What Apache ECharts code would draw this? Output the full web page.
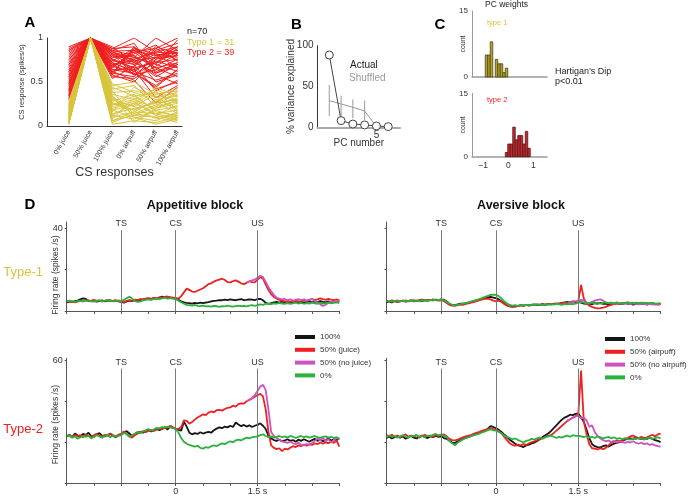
<!DOCTYPE html>
<html>
<head>
<meta charset="utf-8">
<script src="https://cdn.jsdelivr.net/npm/echarts@6/dist/echarts.min.js"></script>
<style>
  html, body { margin: 0; padding: 0; background: #fff; }
  #chart { width: 688px; height: 496px; }
</style>
</head>
<body>
<div id="chart"></div>
<script>
// ---- A: normalised CS responses, one row per neuron ----
const csLabels = ['0% juice', '50% juice', '100% juice', '0% airpuff', '50% airpuff', '100% airpuff']
const type2Rows = [
  [0.88, 1, 0.85, 0.86, 0.80, 0.84], [0.86, 1, 0.82, 0.78, 1.00, 0.86], [0.84, 1, 0.88, 0.90, 0.72, 0.76],
  [0.80, 1, 0.78, 0.84, 0.88, 1.00], [0.78, 1, 0.80, 0.70, 0.82, 0.78], [0.76, 1, 0.74, 0.88, 0.76, 0.90],
  [0.74, 1, 0.86, 0.80, 0.66, 0.72], [0.72, 1, 0.70, 0.76, 0.84, 0.82], [0.70, 1, 0.76, 0.66, 0.72, 0.88],
  [0.68, 1, 0.68, 0.82, 0.92, 0.74], [0.66, 1, 0.82, 0.72, 0.60, 0.68], [0.64, 1, 0.72, 0.62, 0.78, 0.80],
  [0.62, 1, 0.66, 0.86, 0.70, 0.62], [0.60, 1, 0.84, 0.74, 0.56, 0.70], [0.58, 1, 0.62, 0.68, 0.86, 0.94],
  [0.56, 1, 0.70, 0.58, 0.64, 0.76], [0.54, 1, 0.78, 0.80, 0.50, 0.58], [0.52, 1, 0.64, 0.64, 0.74, 0.66],
  [0.50, 1, 0.60, 0.56, 0.80, 0.86], [0.48, 1, 0.74, 0.70, 0.40, 0.52], [0.46, 1, 0.58, 0.90, 0.62, 0.70],
  [0.44, 1, 0.68, 0.60, 0.46, 0.64], [0.42, 1, 0.56, 0.54, 0.68, 0.82], [0.40, 1, 0.80, 0.76, 0.58, 0.48],
  [0.38, 1, 0.62, 0.52, 0.26, 0.44], [0.36, 1, 0.54, 0.68, 0.88, 0.74], [0.34, 1, 0.72, 0.62, 0.52, 0.60],
  [0.32, 1, 0.58, 0.50, 0.76, 0.80], [0.30, 1, 0.66, 0.84, 0.66, 0.56], [0.82, 1, 0.76, 0.64, 0.32, 0.46],
  [0.90, 1, 0.88, 1.00, 0.84, 0.90], [0.86, 1, 0.64, 0.60, 0.44, 0.64], [0.76, 1, 0.84, 0.78, 0.70, 0.98],
  [0.70, 1, 0.90, 0.72, 0.90, 0.82], [0.62, 1, 0.60, 0.88, 0.82, 0.66], [0.56, 1, 0.86, 0.94, 0.60, 0.72],
  [0.48, 1, 0.70, 0.74, 0.78, 0.90], [0.40, 1, 0.76, 0.66, 0.42, 0.50], [0.34, 1, 0.82, 0.58, 0.72, 0.84]
]
const type1Rows = [
  [0.28, 1, 0.48, 0.38, 0.30, 0.34], [0.26, 1, 0.42, 0.46, 0.22, 0.40], [0.25, 1, 0.36, 0.30, 0.42, 0.28],
  [0.24, 1, 0.30, 0.22, 0.36, 0.40], [0.22, 1, 0.44, 0.34, 0.18, 0.22], [0.21, 1, 0.26, 0.18, 0.28, 0.36],
  [0.20, 1, 0.38, 0.40, 0.34, 0.16], [0.18, 1, 0.22, 0.28, 0.12, 0.24], [0.17, 1, 0.34, 0.14, 0.24, 0.32],
  [0.16, 1, 0.18, 0.24, 0.40, 0.18], [0.15, 1, 0.28, 0.36, 0.16, 0.12], [0.14, 1, 0.14, 0.20, 0.26, 0.30],
  [0.13, 1, 0.32, 0.12, 0.10, 0.14], [0.12, 1, 0.24, 0.30, 0.20, 0.26], [0.11, 1, 0.10, 0.16, 0.30, 0.20],
  [0.10, 1, 0.20, 0.26, 0.14, 0.08], [0.09, 1, 0.40, 0.10, 0.06, 0.16], [0.08, 1, 0.16, 0.44, 0.32, 0.38],
  [0.07, 1, 0.12, 0.08, 0.18, 0.10], [0.06, 1, 0.30, 0.22, 0.08, 0.12], [0.05, 1, 0.06, 0.12, 0.22, 0.28],
  [0.04, 1, 0.08, 0.32, 0.12, 0.06], [0.03, 1, 0.02, 0.06, 0.04, 0.10], [0.02, 1, 0.26, 0.18, 0.28, 0.14],
  [0.02, 1, 0.04, 0.14, 0.10, 0.04], [0.03, 1, 0.12, 0.26, 0.44, 0.34], [0.05, 1, 0.18, 0.10, 0.02, 0.08],
  [0.08, 1, 0.46, 0.50, 0.36, 0.42], [0.12, 1, 0.06, 0.16, 0.14, 0.18], [0.18, 1, 0.24, 0.34, 0.38, 0.26],
  [0.23, 1, 0.34, 0.04, 0.20, 0.30]
]

// ---- B: variance explained ----
const pcNumber = [1, 2, 3, 4, 5, 6]
const actualVar = [88.6, 8.2, 4.0, 2.9, 1.6, 0.8]
const shuffledVar = [32.7, 28.6, 24.5, 20.0, 0.8, 0]
const shuffledLo = [13.9, 9.8, 11.0, 9.0]
const shuffledHi = [51.8, 38.8, 34.0, 32.7]

// ---- C: PC weight histograms ----
const binWidth = 0.1
const type1BinStart = [-0.92, -0.82, -0.72, -0.52, -0.42, -0.32, -0.22, -0.12]
const type1Count = [5, 5, 8, 4, 3, 3, 1, 2]
const type2BinStart = [-0.12, -0.02, 0.08, 0.18, 0.28, 0.38, 0.48, 0.58, 0.68, 0.78]
const type2Count = [1, 3, 3, 7, 4, 5, 5, 3, 6, 2]

// ---- D: firing rate traces, sampled every 50 ms from -2 s ----
const tStart = -2
const tStep = 0.05
const magStart = 1.3
const timeTicks = [-2, -1.5, -1, -0.5, 0, 0.5, 1, 1.5, 2, 2.5, 3]
const events = [{ name: 'TS', t: -1 }, { name: 'CS', t: 0 }, { name: 'US', t: 1.5 }]

const app1Black = [4.2,4.6,4.3,4.8,5.0,5.6,6.1,5.8,5.0,4.7,4.9,4.5,4.8,5.1,4.7,4.9,5.2,4.8,5.0,4.6,
  4.4,4.0,4.6,5.0,4.8,5.2,5.4,5.1,5.6,5.8,6.0,5.7,6.2,6.0,6.5,7.0,6.6,6.3,6.4,6.2,
  6.0,5.4,4.6,4.2,3.9,3.8,3.6,3.9,3.7,4.0,3.8,4.1,4.3,4.6,4.9,5.0,5.3,5.2,5.5,5.3,5.6,5.4,5.2,5.5,5.7,5.3,5.4,5.6,5.5,5.2,
  5.8,5.9,5.2,3.9,3.5,3.8,4.2,4.4,4.1,4.5,4.3,4.6,4.2,4.4,4.7,4.3,4.5,4.1,4.4,4.6,4.2,4.5,4.3,4.8,4.4,4.2,4.6,4.3,4.5,4.4,4.6]
const app1Red = [4.8,4.4,4.6,4.2,4.5,4.9,4.7,5.2,4.8,5.0,5.4,4.9,5.1,4.6,5.0,5.3,4.7,4.9,5.2,4.8,
  4.6,4.3,4.9,5.3,5.0,5.5,5.2,5.8,5.5,6.0,6.2,5.9,6.3,6.1,6.6,6.4,6.8,7.0,6.7,6.5,
  6.3,6.0,7.2,9.0,10.8,10.2,9.4,9.2,9.8,10.4,11.0,12.0,13.0,13.4,14.2,14.8,15.2,15.6,15.0,14.0,13.8,14.4,14.8,14.2,13.4,13.0,13.6,14.4,14.0,13.8,
  15.2,16.4,15.6,12.8,10.2,8.2,6.8,6.0,5.4,5.0,4.6,4.8,4.4,4.7,5.0,4.6,4.8,5.2,4.9,5.4,5.8,5.3,5.6,6.1,5.7,5.4,5.9,5.5,5.2,5.6,5.0]
const app1Mag = [14.0,14.2,14.8,15.2,16.0,17.0,16.4,14.0,11.5,9.5,7.8,6.4,6.0,5.6,5.8,5.2,5.6,5.0,5.4,5.8,
  5.2,5.6,5.0,5.4,5.8,4.8,4.2,3.2,2.4,3.0,4.0,4.6,4.4,4.8,4.5]
const app1Green = [4.6,5.0,4.7,4.4,4.8,5.0,4.6,4.9,5.2,4.8,4.5,4.9,5.1,4.7,4.9,5.3,5.0,4.6,4.8,5.1,
  4.8,5.4,6.2,6.9,6.0,4.8,4.4,4.7,5.1,5.4,5.6,5.3,5.8,6.0,5.7,6.1,6.4,6.0,6.2,6.0,
  5.8,5.0,4.2,3.5,3.0,2.8,2.6,2.9,2.5,2.3,2.6,2.2,2.4,2.1,2.5,2.3,2.0,2.4,2.2,2.6,2.3,2.1,2.4,2.6,2.3,2.5,2.2,2.6,2.8,2.5,
  2.9,3.2,3.0,3.4,3.6,3.3,3.7,3.5,3.9,3.6,3.4,3.8,3.5,3.7,4.0,3.6,3.9,3.5,3.8,3.6,4.0,3.7,3.5,3.9,3.6,3.8,4.1,3.7,3.9,4.2,3.8]

const av1Black = [4.2,4.6,4.1,4.8,4.4,4.7,5.0,4.5,4.8,5.2,4.6,4.9,5.1,4.7,5.3,5.0,5.4,5.1,5.5,5.2,
  5.6,5.4,4.6,3.4,2.8,2.9,3.2,3.6,3.5,3.8,4.1,4.4,4.8,5.1,5.6,5.9,6.2,6.6,6.8,6.5,
  6.2,5.6,4.6,3.6,2.8,2.2,2.0,2.5,2.4,2.8,2.6,3.0,2.7,2.9,3.2,2.8,3.1,3.3,3.0,3.4,3.2,3.5,3.3,3.6,3.9,4.1,4.4,4.2,4.6,4.3,
  4.4,4.0,3.6,3.4,3.6,3.3,3.8,3.5,3.9,3.4,3.6,3.2,3.7,3.4,3.9,3.5,3.3,3.8,3.4,3.6,3.1,3.5,3.8,3.4,3.6,3.3,3.7,3.5,3.2,3.6,3.4]
const av1Red = [5.0,4.6,5.2,4.8,4.4,4.9,4.6,5.1,4.7,5.0,5.3,4.8,5.2,5.5,5.0,5.4,5.1,5.6,5.3,5.0,
  5.2,4.8,3.8,3.0,2.6,2.5,2.8,3.1,3.0,3.4,3.7,4.0,4.4,4.8,5.2,5.6,5.9,6.0,5.6,5.0,
  4.7,5.0,4.4,3.4,2.6,2.2,2.4,2.0,2.5,2.7,2.5,2.9,2.6,3.0,2.8,3.2,2.9,3.3,3.1,3.5,3.2,3.4,3.7,3.5,3.8,4.0,3.7,4.2,4.4,4.6,
  4.8,12.6,6.0,3.6,2.6,2.0,1.5,1.3,1.4,1.6,2.0,2.6,3.0,3.4,3.6,3.3,3.9,3.6,4.2,3.8,3.5,4.0,3.7,4.1,3.6,3.9,3.4,3.8,3.5,3.2,3.4]
const av1Mag = [4.0,4.2,4.4,4.6,4.8,5.4,5.0,4.2,3.8,4.4,5.0,5.4,5.6,5.0,4.2,3.8,4.0,3.6,4.2,3.8,
  3.5,4.0,3.6,3.3,3.8,3.5,3.2,3.6,3.4,3.0,3.4,3.1,3.3,3.0,3.2]
const av1Green = [4.6,4.9,4.5,4.8,5.1,4.7,5.0,4.6,4.9,5.2,4.8,5.1,4.7,5.0,5.3,4.9,5.2,5.5,5.1,5.4,
  5.6,5.2,4.4,3.6,3.0,2.8,3.0,3.3,3.6,3.9,4.2,4.6,5.0,5.4,5.8,6.3,6.8,7.3,7.8,7.9,
  7.8,7.2,6.0,4.6,3.6,2.9,2.6,2.8,2.5,2.9,2.7,3.0,2.8,3.1,2.9,3.2,3.0,2.8,3.2,3.0,3.3,3.1,3.4,3.2,3.0,3.4,3.2,3.5,3.3,3.6,
  4.0,4.4,4.0,3.6,3.8,4.1,3.7,4.0,3.6,3.9,4.2,3.8,4.0,3.7,4.1,3.8,3.5,3.9,4.2,3.8,4.0,3.6,3.9,3.7,4.0,3.8,3.5,3.9,3.7,3.6,3.8]

const app2Black = [23.0,23.6,22.4,24.2,23.2,22.8,24.0,23.4,24.6,23.0,22.6,23.8,24.4,23.2,22.8,23.6,24.0,23.0,22.4,23.4,
  23.6,24.6,25.4,24.2,23.0,23.8,24.4,25.0,24.6,25.4,25.8,25.2,26.0,26.4,25.8,26.6,27.2,26.2,27.8,27.0,
  26.6,26.0,25.6,30.0,27.6,24.6,23.8,24.4,24.0,24.8,24.2,24.6,25.0,24.6,25.8,26.6,27.2,26.8,27.6,27.2,28.0,27.4,29.6,28.6,27.8,28.4,27.6,28.2,27.4,28.0,
  28.4,29.2,28.0,26.4,23.2,21.8,21.0,20.6,21.2,20.4,20.8,21.4,20.6,21.0,20.2,21.2,20.6,21.4,20.8,20.2,21.0,21.6,20.6,21.2,20.4,21.0,21.8,20.8,21.4,21.0,21.8]
const app2Red = [22.6,23.2,22.2,23.6,22.8,23.4,22.4,23.8,23.0,22.6,23.4,24.0,23.2,22.8,23.6,23.0,24.2,23.4,22.8,23.6,
  24.2,25.2,24.0,22.8,22.2,23.4,24.2,24.8,25.4,24.8,25.6,26.0,25.4,26.2,26.8,26.2,27.4,27.0,28.0,27.2,
  26.6,26.4,27.4,30.6,30.4,29.0,29.8,31.0,32.0,32.8,33.6,33.2,34.4,35.0,34.6,35.6,35.8,35.4,36.2,36.8,37.0,37.8,37.4,38.6,39.0,38.8,40.0,40.6,41.4,42.2,
  43.0,43.6,42.4,36.0,25.0,18.4,17.2,16.6,17.0,15.6,16.8,16.4,17.2,18.0,17.6,18.4,18.0,18.8,18.2,19.0,18.6,19.4,19.0,19.8,19.2,20.0,19.4,20.2,19.6,20.8,17.8]
const app2Mag = [40.0,40.8,41.6,43.0,45.0,47.2,48.0,45.4,36.0,25.0,23.0,22.0,21.0,20.4,20.0,19.6,20.2,19.4,19.0,19.8,
  18.6,18.4,19.2,18.6,19.6,20.6,21.6,20.8,22.0,20.6,21.4,19.8,21.0,22.0,21.4]
const app2Green = [22.8,23.4,22.2,22.8,21.6,22.4,23.0,22.6,23.2,21.8,22.6,23.4,22.8,22.2,23.0,23.6,22.4,23.2,22.6,23.0,
  23.4,24.6,23.8,22.6,23.4,24.2,25.0,24.4,25.2,25.8,26.4,25.6,26.2,27.0,26.6,27.4,27.0,27.6,27.2,26.8,
  26.4,24.6,22.0,20.2,19.2,18.6,18.2,17.8,18.2,17.2,16.8,17.6,17.2,18.0,18.4,18.0,18.8,19.4,19.0,19.8,20.4,20.0,20.8,21.2,20.8,21.6,22.2,21.8,22.4,22.6,
  22.8,23.4,23.8,23.0,22.4,22.8,22.2,22.6,23.0,22.4,22.8,22.2,23.0,22.6,22.0,22.6,23.0,22.4,22.8,22.2,22.6,23.0,22.4,22.0,22.6,22.8,22.2,22.6,22.0,22.4,21.8]

const av2Black = [22.0,22.6,21.8,22.4,23.0,22.2,22.8,21.6,22.4,23.0,22.2,21.8,22.6,23.2,22.4,22.0,22.8,22.4,23.0,22.6,
  22.8,22.0,21.6,20.6,19.8,19.6,20.4,21.0,21.6,22.2,22.6,23.0,23.6,24.0,24.6,25.2,25.6,26.6,27.8,27.4,
  26.8,26.0,25.0,23.6,22.6,21.2,20.2,19.2,18.4,18.0,17.6,18.4,18.8,19.4,19.8,20.6,21.4,22.6,23.4,24.2,25.4,26.8,28.2,29.6,31.0,32.0,32.6,33.4,33.2,33.8,
  34.0,32.0,30.0,26.0,22.0,19.0,18.0,17.6,17.4,18.0,18.4,17.8,18.6,19.2,19.6,20.0,20.6,21.2,21.6,21.8,21.6,22.2,21.8,21.4,22.0,21.6,22.2,21.6,21.0,20.6,20.0]
const av2Red = [23.4,22.8,23.6,22.6,23.2,22.4,23.0,23.8,22.6,23.2,22.8,23.4,22.2,23.0,23.6,22.8,23.2,22.6,23.4,23.0,
  23.4,23.8,22.8,21.6,21.0,20.8,21.2,21.8,22.4,22.8,23.2,23.6,24.2,24.6,25.0,25.6,26.0,26.4,26.8,26.4,
  26.0,25.4,24.2,22.6,21.0,19.4,18.6,18.2,18.8,18.4,19.0,18.6,19.4,20.0,20.4,21.0,21.6,22.0,22.6,23.0,23.4,24.4,25.6,26.8,28.0,29.2,30.4,31.2,32.0,32.6,
  34.0,55.0,30.0,24.0,19.0,17.0,16.8,16.4,17.0,16.6,17.2,18.4,19.6,20.2,20.8,20.4,21.0,21.6,22.0,22.8,23.2,22.4,22.0,22.6,21.8,22.4,23.0,23.6,22.8,23.8,24.2]
const av2Mag = [30.4,31.2,32.0,32.6,33.0,31.6,32.0,30.6,27.4,28.2,25.0,23.0,21.8,21.0,20.4,20.8,20.0,20.6,19.8,20.4,
  20.0,19.6,20.2,19.8,20.4,19.6,19.2,19.8,19.0,19.4,18.6,19.0,18.4,18.0,17.8]
const av2Green = [22.4,23.2,22.6,23.0,22.2,22.8,23.4,22.6,22.2,23.0,22.8,23.4,22.6,23.0,22.4,23.2,22.8,23.6,24.0,23.2,
  23.8,23.0,22.4,20.6,19.4,18.4,19.8,20.6,21.4,22.0,22.4,23.0,23.4,23.8,24.2,24.8,25.2,25.8,26.2,25.8,
  25.6,25.0,24.2,23.2,22.6,22.0,21.4,21.8,21.0,20.4,19.8,20.6,21.0,21.6,21.2,21.8,22.2,21.6,22.4,22.8,23.2,22.6,22.0,22.6,22.2,22.8,23.2,22.6,23.4,23.0,
  23.2,22.8,22.4,23.0,22.2,22.6,22.0,22.8,22.4,21.8,22.2,22.6,21.8,22.4,21.6,22.0,21.4,22.0,21.6,21.2,21.8,21.4,22.0,21.6,21.2,21.8,22.2,21.6,22.0,22.4,21.8]

const appNames = ['100%', '50% (juice)', '50% (no juice)', '0%']
const avNames = ['100%', '50% (airpuff)', '50% (no airpuff)', '0%']

const RED = '#ee1f1f'
const YELLOW = '#d8c43c'
const FONT = 'Liberation Sans'
const TRACE_COLORS = ['#151515', '#ee2020', '#cf52c0', '#2bb23c']

const chart = echarts.init(document.getElementById('chart'))

function toXY(vals, t0) {
  return vals.map((v, i) => [Math.round((t0 + i * tStep) * 100) / 100, v])
}

function lineA(row, color) {
  return {
    type: 'line', xAxisIndex: 0, yAxisIndex: 0, silent: true,
    data: row.map((v, i) => [i + 1, v]),
    symbol: 'none', lineStyle: { color: color, width: 1 }, itemStyle: { color: color }
  }
}

function histSeries(idx, starts, counts, fill, edge) {
  return {
    type: 'custom', xAxisIndex: idx, yAxisIndex: idx, silent: true,
    data: starts.map((s, i) => [s, s + binWidth, counts[i]]),
    encode: { x: [0, 1], y: 2 },
    renderItem: function (params, api) {
      const p0 = api.coord([api.value(0), api.value(2)])
      const p1 = api.coord([api.value(1), 0])
      return {
        type: 'rect',
        shape: { x: p0[0], y: p0[1], width: p1[0] - p0[0], height: p1[1] - p0[1] },
        style: { fill: fill, stroke: edge, lineWidth: 0.8 }
      }
    }
  }
}

function tracePanel(idx, traces, names, lineTop, labelGap) {
  const list = traces.map((tr, k) => ({
    type: 'line', name: names[k], xAxisIndex: idx, yAxisIndex: idx, silent: true,
    data: toXY(tr, k === 2 ? magStart : tStart),
    symbol: 'none', showSymbol: false,
    lineStyle: { color: TRACE_COLORS[k], width: 1.8 },
    itemStyle: { color: TRACE_COLORS[k] }
  }))
  // draw order: black, red, magenta, green
  list[0].markLine = {
    silent: true, symbol: ['none', 'none'], animation: false,
    lineStyle: { color: '#7a7a7a', width: 1, type: 'solid' },
    label: { position: 'end', formatter: '{b}', fontSize: 9, color: '#333', distance: labelGap, fontFamily: FONT },
    data: events.map(e => [{ name: e.name, coord: [e.t, 0] }, { coord: [e.t, lineTop] }])
  }
  return list
}

const series = []
type2Rows.forEach(r => series.push(lineA(r, RED)))
type1Rows.forEach(r => series.push(lineA(r, YELLOW)))

series.push({
  type: 'line', xAxisIndex: 1, yAxisIndex: 1, silent: true,
  data: shuffledVar.map((v, i) => [pcNumber[i], v]),
  symbol: 'none', lineStyle: { color: '#999', width: 1 }
})
series.push({
  type: 'custom', xAxisIndex: 1, yAxisIndex: 1, silent: true,
  data: shuffledLo.map((lo, i) => [pcNumber[i], lo, shuffledHi[i]]),
  encode: { x: 0, y: [1, 2] },
  renderItem: function (params, api) {
    const a = api.coord([api.value(0), api.value(1)])
    const b = api.coord([api.value(0), api.value(2)])
    return { type: 'line', shape: { x1: a[0], y1: a[1], x2: b[0], y2: b[1] }, style: { stroke: '#999', lineWidth: 1 } }
  }
})
series.push({
  type: 'line', xAxisIndex: 1, yAxisIndex: 1, silent: true,
  data: actualVar.map((v, i) => [pcNumber[i], v]),
  symbol: 'circle', symbolSize: 8,
  lineStyle: { color: '#444', width: 1 },
  itemStyle: { color: '#fff', borderColor: '#444', borderWidth: 1 }
})

series.push(histSeries(2, type1BinStart, type1Count, '#b2a52a', '#4a4218'))
series.push(histSeries(3, type2BinStart, type2Count, '#c02a30', '#551414'))

series.push(...tracePanel(4, [app1Black, app1Red, app1Mag, app1Green], appNames, 39, 2))
series.push(...tracePanel(5, [av1Black, av1Red, av1Mag, av1Green], avNames, 39, 2))
series.push(...tracePanel(6, [app2Black, app2Red, app2Mag, app2Green], appNames, 56, 1.5))
series.push(...tracePanel(7, [av2Black, av2Red, av2Mag, av2Green], avNames, 56, 1.5))

const axisTxt = { fontFamily: FONT, color: '#333' }

function timeAxis(idx, showLabels) {
  return {
    type: 'value', gridIndex: idx, min: -2, max: 3,
    axisLine: { onZero: false, lineStyle: { color: '#555', width: 1 } },
    axisTick: { show: true, customValues: timeTicks, length: 3, lineStyle: { color: '#555' } },
    axisLabel: {
      show: showLabels, customValues: [0, 1.5], fontSize: 9, margin: 4, ...axisTxt,
      formatter: v => (v === 0 ? '0' : '1.5 s')
    },
    splitLine: { show: false }
  }
}

// shift: pushes the rotated axis name downwards (right padding in text frame)
function rateAxis(idx, max, ticks, label, named, shift) {
  return {
    type: 'value', gridIndex: idx, min: 0, max: max,
    axisLine: { show: true, onZero: false, lineStyle: { color: '#555', width: 1 } },
    axisTick: { show: true, customValues: ticks, length: 2, lineStyle: { color: '#555' } },
    axisLabel: { show: label !== null, customValues: label === null ? [] : [label], fontSize: 9, margin: 4, ...axisTxt },
    splitLine: { show: false },
    name: named ? 'Firing rate (spikes /s)' : '',
    nameLocation: 'middle', nameGap: 7, nameMoveOverlap: false,
    nameTextStyle: { fontSize: 8.5, padding: [0, shift || 0, 0, 0], ...axisTxt }
  }
}

const option = {
  animation: false,
  textStyle: { fontFamily: FONT },
  grid: [
    { left: 47, top: 38, width: 135, height: 88 },
    { left: 317.5, top: 45.7, width: 82.5, height: 81.6 },
    { left: 472, top: 11, width: 75, height: 66 },
    { left: 472, top: 93.3, width: 75, height: 63.4 },
    { left: 66.7, top: 222, width: 272.6, height: 89 },
    { left: 386.4, top: 222, width: 274.2, height: 89 },
    { left: 66.7, top: 358.3, width: 272.6, height: 125 },
    { left: 386.4, top: 358.3, width: 274.2, height: 125 }
  ],
  xAxis: [
    {
      type: 'value', gridIndex: 0, min: 0, max: 6.2,
      axisLine: { onZero: false, lineStyle: { color: '#333' } }, axisTick: { show: false }, splitLine: { show: false },
      axisLabel: {
        customValues: [1, 2, 3, 4, 5, 6], rotate: 60, fontSize: 7, margin: 5, ...axisTxt,
        formatter: v => csLabels[Math.round(v) - 1]
      },
      name: 'CS responses', nameLocation: 'middle', nameGap: 40, nameMoveOverlap: false,
      nameTextStyle: { fontSize: 12.5, ...axisTxt }
    },
    {
      type: 'value', gridIndex: 1, min: 0, max: 7,
      axisLine: { onZero: false, lineStyle: { color: '#aaa', width: 2 } }, axisTick: { show: false }, splitLine: { show: false },
      axisLabel: { customValues: [5], fontSize: 10, margin: 3, ...axisTxt },
      name: 'PC number', nameLocation: 'middle', nameGap: 11, nameMoveOverlap: false,
      nameTextStyle: { fontSize: 10, ...axisTxt }
    },
    {
      type: 'value', gridIndex: 2, min: -1.45, max: 1.55,
      axisLine: { onZero: false, lineStyle: { color: '#999', width: 1.5 } }, axisTick: { show: false }, splitLine: { show: false },
      axisLabel: { show: false }
    },
    {
      type: 'value', gridIndex: 3, min: -1.45, max: 1.55,
      axisLine: { onZero: false, lineStyle: { color: '#999', width: 1.5 } }, axisTick: { show: false }, splitLine: { show: false },
      axisLabel: { customValues: [-1, 0, 1], fontSize: 8.5, margin: 4, ...axisTxt, formatter: v => (v < 0 ? '\u22121' : String(v)) }
    },
    timeAxis(4, false), timeAxis(5, false), timeAxis(6, true), timeAxis(7, true)
  ],
  yAxis: [
    {
      type: 'value', gridIndex: 0, min: 0, max: 1, interval: 0.5,
      axisLine: { show: true, onZero: false, lineStyle: { color: '#333' } }, axisTick: { show: false }, splitLine: { show: false },
      axisLabel: { fontSize: 9, margin: 4, ...axisTxt },
      name: 'CS response (spikes/s)', nameLocation: 'middle', nameGap: 22, nameMoveOverlap: false,
      nameTextStyle: { fontSize: 7.3, ...axisTxt }
    },
    {
      type: 'value', gridIndex: 1, min: 0, max: 100, interval: 50,
      axisLine: { show: true, onZero: false, lineStyle: { color: '#333' } }, axisTick: { show: false }, splitLine: { show: false },
      axisLabel: { fontSize: 10, margin: 4, ...axisTxt },
      name: '% variance explained', nameLocation: 'middle', nameGap: 21, nameMoveOverlap: false,
      nameTextStyle: { fontSize: 10, ...axisTxt }
    },
    {
      type: 'value', gridIndex: 2, min: 0, max: 15,
      axisLine: { show: true, onZero: false, lineStyle: { color: '#999' } }, axisTick: { show: false }, splitLine: { show: false },
      axisLabel: { customValues: [0, 15], fontSize: 8, margin: 4, ...axisTxt },
      name: 'count', nameLocation: 'middle', nameGap: 5, nameMoveOverlap: false, nameTextStyle: { fontSize: 7, ...axisTxt }
    },
    {
      type: 'value', gridIndex: 3, min: 0, max: 15,
      axisLine: { show: true, onZero: false, lineStyle: { color: '#999' } }, axisTick: { show: false }, splitLine: { show: false },
      axisLabel: { customValues: [0, 15], fontSize: 8, margin: 4, ...axisTxt },
      name: 'count', nameLocation: 'middle', nameGap: 5, nameMoveOverlap: false, nameTextStyle: { fontSize: 7, ...axisTxt }
    },
    rateAxis(4, 43, [0, 20, 40], 40, true, 17),
    rateAxis(5, 43, [0, 20, 40], null, false),
    rateAxis(6, 61, [0, 20, 40, 60], 60, true, 8),
    rateAxis(7, 61, [0, 20, 40, 60], null, false)
  ],
  legend: [
    {
      data: appNames, left: 295, top: 332, orient: 'vertical', icon: 'rect',
      itemWidth: 20, itemHeight: 4, itemGap: 2.8, padding: 0, selectedMode: false,
      textStyle: { fontSize: 8, lineHeight: 10, color: '#333', fontFamily: FONT }
    },
    {
      data: avNames, left: 605, top: 334, orient: 'vertical', icon: 'rect',
      itemWidth: 20, itemHeight: 4, itemGap: 2.8, padding: 0, selectedMode: false,
      textStyle: { fontSize: 8, lineHeight: 10, color: '#333', fontFamily: FONT }
    }
  ],
  graphic: [
    { type: 'text', style: { text: 'A', x: 30, y: 23, font: 'bold 15px ' + FONT, fill: '#000', textAlign: 'center', textVerticalAlign: 'middle' } },
    { type: 'text', style: { text: 'B', x: 296.5, y: 25, font: 'bold 15px ' + FONT, fill: '#000', textAlign: 'center', textVerticalAlign: 'middle' } },
    { type: 'text', style: { text: 'C', x: 440, y: 25, font: 'bold 15px ' + FONT, fill: '#000', textAlign: 'center', textVerticalAlign: 'middle' } },
    { type: 'text', style: { text: 'D', x: 30, y: 205, font: 'bold 15px ' + FONT, fill: '#000', textAlign: 'center', textVerticalAlign: 'middle' } },
    { type: 'text', style: { text: 'n=70', x: 187, y: 32, font: '9px ' + FONT, fill: '#222', textVerticalAlign: 'middle' } },
    { type: 'text', style: { text: 'Type 1 = 31', x: 187, y: 42.5, font: '9px ' + FONT, fill: YELLOW, textVerticalAlign: 'middle' } },
    { type: 'text', style: { text: 'Type 2 = 39', x: 187, y: 53, font: '9px ' + FONT, fill: RED, textVerticalAlign: 'middle' } },
    { type: 'text', style: { text: 'Actual', x: 350, y: 65, font: '10px ' + FONT, fill: '#222', textVerticalAlign: 'middle' } },
    { type: 'text', style: { text: 'Shuffled', x: 349, y: 78, font: '10px ' + FONT, fill: '#999', textVerticalAlign: 'middle' } },
    { type: 'text', style: { text: 'PC weights', x: 485, y: 4.5, font: '8.5px ' + FONT, fill: '#222', textVerticalAlign: 'middle' } },
    { type: 'text', style: { text: 'type 1', x: 487, y: 23, font: '7.5px ' + FONT, fill: YELLOW, textVerticalAlign: 'middle' } },
    { type: 'text', style: { text: 'type 2', x: 487, y: 100, font: '7.5px ' + FONT, fill: RED, textVerticalAlign: 'middle' } },
    { type: 'text', style: { text: 'Hartigan\u2019s Dip', x: 555, y: 72, font: '9px ' + FONT, fill: '#222', textVerticalAlign: 'middle' } },
    { type: 'text', style: { text: 'p<0.01', x: 555, y: 82, font: '9px ' + FONT, fill: '#222', textVerticalAlign: 'middle' } },
    { type: 'text', style: { text: 'Appetitive block', x: 195, y: 206, font: 'bold 12.5px ' + FONT, fill: '#111', textAlign: 'center', textVerticalAlign: 'middle' } },
    { type: 'text', style: { text: 'Aversive block', x: 521, y: 206, font: 'bold 12.5px ' + FONT, fill: '#111', textAlign: 'center', textVerticalAlign: 'middle' } },
    { type: 'text', style: { text: 'Type-1', x: 43, y: 272, font: '13px ' + FONT, fill: YELLOW, textAlign: 'right', textVerticalAlign: 'middle' } },
    { type: 'text', style: { text: 'Type-2', x: 43, y: 429, font: '13px ' + FONT, fill: RED, textAlign: 'right', textVerticalAlign: 'middle' } }
  ],
  series: series
}

chart.setOption(option)
</script>
</body>
</html>
